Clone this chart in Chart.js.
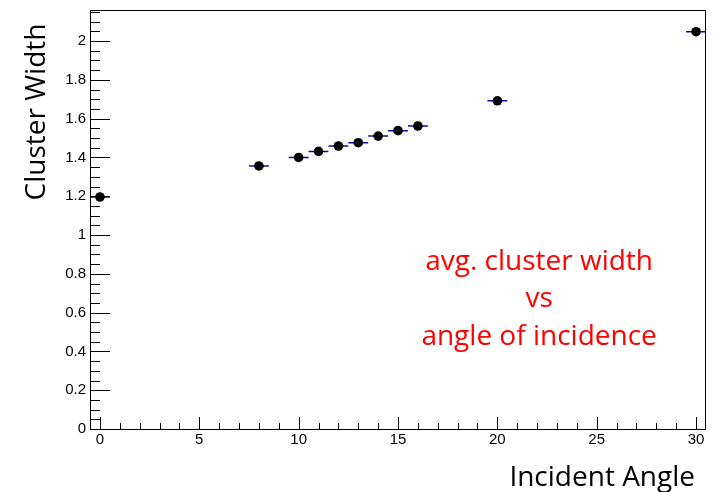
<!DOCTYPE html>
<html>
<head>
<meta charset="utf-8">
<title>Cluster width vs incident angle</title>
<script src="https://cdn.jsdelivr.net/npm/chart.js@4.4.1/dist/chart.umd.min.js"></script>
<style>
  html, body { margin: 0; padding: 0; background: #fff; }
  #clusterChart { display: block; }
</style>
</head>
<body>
<canvas id="clusterChart" width="715" height="492"></canvas>
<script>
// measured points: incident angle (deg) vs mean cluster width
const angles    = [0, 8, 10, 11, 12, 13, 14, 15, 16, 20, 30];
const widths    = [1.196, 1.356, 1.400, 1.431, 1.459, 1.476, 1.510, 1.538, 1.562, 1.692, 2.048];
const angleErrs = [0.5, 0.5, 0.5, 0.5, 0.5, 0.5, 0.5, 0.5, 0.5, 0.5, 0.5];

const xTicks = [0, 5, 10, 15, 20, 25, 30];
const yTicks = [0, 0.2, 0.4, 0.6, 0.8, 1, 1.2, 1.4, 1.6, 1.8, 2];
const xMinorStep = 1;
const yMinorStep = 0.05;

const noteLines = ['avg. cluster width', 'vs', 'angle of incidence'];

const TITLE_FONT = '28px "Open Sans", sans-serif';
const TICK_FONT = { family: '"Liberation Sans", Arial, sans-serif', size: 15 };

// ROOT-like frame: box around the pad plus ticks pointing inward
const frameTicks = {
    id: 'frameTicks',
    afterDraw(chart) {
        const { ctx, chartArea: a, scales: { x, y } } = chart;
        ctx.save();
        ctx.strokeStyle = '#000';
        ctx.lineWidth = 1;
        ctx.strokeRect(a.left + 0.5, a.top + 0.5, a.right - a.left - 1, a.bottom - a.top);

        ctx.beginPath();
        // x axis: minor every degree, major at labels
        for (let v = Math.ceil(x.min); v <= x.max; v += xMinorStep) {
            const px = Math.round(x.getPixelForValue(v)) + 0.5;
            const len = xTicks.includes(v) ? 12 : 6;
            ctx.moveTo(px, a.bottom);
            ctx.lineTo(px, a.bottom - len);
        }
        // y axis
        for (let i = 0; i * yMinorStep <= y.max + 1e-9; i++) {
            const v = +(i * yMinorStep).toFixed(2);
            const py = Math.round(y.getPixelForValue(v)) + 0.5;
            const major = yTicks.some(t => Math.abs(t - v) < 1e-6);
            ctx.moveTo(a.left, py);
            ctx.lineTo(a.left + (major ? 20 : 10), py);
        }
        ctx.stroke();
        ctx.restore();
    }
};

// horizontal error bars under the markers
const xErrorBars = {
    id: 'xErrorBars',
    beforeDatasetsDraw(chart) {
        const { ctx, scales: { x, y } } = chart;
        ctx.save();
        ctx.strokeStyle = '#0a0aa0';
        ctx.lineWidth = 1.5;
        ctx.beginPath();
        angles.forEach((a, i) => {
            const py = y.getPixelForValue(widths[i]);
            ctx.moveTo(x.getPixelForValue(a - angleErrs[i]), py);
            ctx.lineTo(x.getPixelForValue(a + angleErrs[i]), py);
        });
        ctx.stroke();
        ctx.restore();
    }
};

// axis titles and the red note
const labels = {
    id: 'labels',
    afterDraw(chart) {
        const { ctx, chartArea: a, scales: { x, y } } = chart;
        ctx.save();
        ctx.font = TITLE_FONT;
        ctx.fillStyle = '#000';
        ctx.textBaseline = 'alphabetic';

        ctx.textAlign = 'right';
        ctx.fillText('Incident Angle', a.right - 11, a.bottom + 57);

        ctx.save();
        ctx.translate(45, 112);
        ctx.rotate(-Math.PI / 2);
        ctx.textAlign = 'center';
        ctx.fillText('Cluster Width', 0, 0);
        ctx.restore();

        ctx.fillStyle = '#ff0000';
        ctx.textAlign = 'center';
        const cx = x.getPixelForValue(22.1);
        const top = y.getPixelForValue(0.82);
        noteLines.forEach((line, i) => ctx.fillText(line, cx, top + i * 37.5));
        ctx.restore();
    }
};

new Chart(document.getElementById('clusterChart'), {
    type: 'scatter',
    data: {
        datasets: [{
            data: angles.map((a, i) => ({ x: a, y: widths[i] })),
            backgroundColor: '#000',
            borderColor: '#000',
            borderWidth: 0,
            pointRadius: 4.8,
            pointHoverRadius: 4.8
        }]
    },
    options: {
        responsive: false,
        animation: false,
        events: [],
        layout: { padding: { top: 10, right: 9, left: 0, bottom: 0 } },
        plugins: {
            legend: { display: false },
            tooltip: { enabled: false }
        },
        scales: {
            x: {
                type: 'linear',
                min: -0.5,
                max: 30.5,
                grid: { display: false, drawTicks: false },
                border: { display: false },
                afterBuildTicks: s => { s.ticks = xTicks.map(v => ({ value: v })); },
                afterFit: s => {
                    s.height = 63;
                    s.paddingLeft = 0;
                    s.paddingRight = 0;
                },
                ticks: {
                    font: TICK_FONT,
                    color: '#000',
                    padding: 2,
                    maxRotation: 0,
                    callback: v => String(v)
                }
            },
            y: {
                type: 'linear',
                min: 0,
                max: 2.16,
                grid: { display: false, drawTicks: false },
                border: { display: false },
                afterBuildTicks: s => { s.ticks = yTicks.map(v => ({ value: v })); },
                afterFit: s => {
                    s.width = 90;
                    s.paddingTop = 0;
                    s.paddingBottom = 0;
                },
                ticks: {
                    font: TICK_FONT,
                    color: '#000',
                    padding: 4,
                    callback: v => String(Math.round(v * 10) / 10)
                }
            }
        }
    },
    plugins: [xErrorBars, frameTicks, labels]
});
</script>
</body>
</html>
